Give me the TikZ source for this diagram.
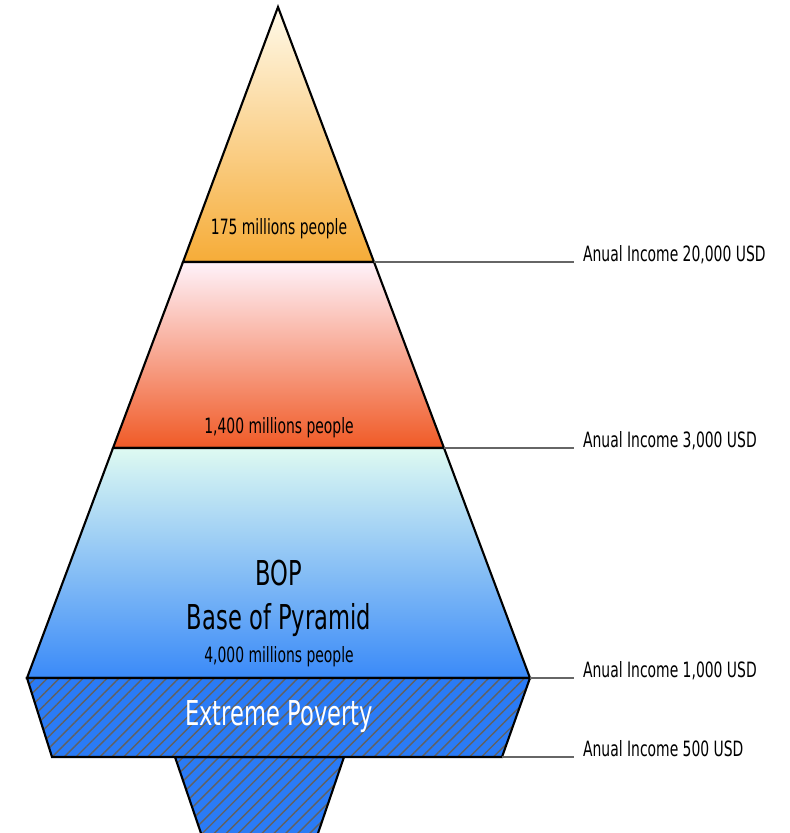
\documentclass[tikz,border=0pt]{standalone}
\usepackage{fontspec}
\setmainfont{DejaVu Sans}[FakeStretch=0.66]
\usepackage{tikz}
\usetikzlibrary{calc}
\usetikzlibrary{patterns.meta}
\definecolor{orangetop}{HTML}{FFFAEA}
\definecolor{orangebot}{HTML}{F6AC38}
\definecolor{redtop}{HTML}{FFF2FA}
\definecolor{redbot}{HTML}{F05A26}
\definecolor{bluetop}{HTML}{DEFAF2}
\definecolor{bluebot}{HTML}{3A8AF8}
\definecolor{povblue}{HTML}{2A7BF6}
\definecolor{leadgray}{HTML}{666666}
\newcommand{\income}[3]{ \node[incomelbl, anchor=base west] (#1) at ( 574 , #2 ) {#3};}
\tikzset{
  pyr/.style={draw=black, line width=1.2pt},
  leader/.style={draw=leadgray, line width=0.8pt},
  hatched/.style={preaction={fill=povblue},
    preaction={pattern={Lines[angle=45,distance=4.8pt,line width=0.8pt]}, pattern color=black!62}},
  incomelbl/.style={inner ysep=0pt, inner xsep=5pt, font=\fontsize{12}{14}\selectfont},
  bandlbl/.style={inner sep=0pt, font=\fontsize{12}{14}\selectfont},
  biglbl/.style={inner sep=0pt, font=\fontsize{19.5}{22}\selectfont},
}
\begin{document}
\begin{tikzpicture}[x=0.02cm, y=-0.02cm]
        \useasboundingbox (0,0) rectangle (790,833);
        \clip (0,0) rectangle (790,833);
        % corners
        \coordinate (apex) at (278,7);
        \coordinate (c1l) at (183,262);
        \coordinate (c1r) at (374,262);
        \coordinate (c2l) at (113,448);
        \coordinate (c2r) at (444,448);
        \coordinate (c3l) at (27,678);
        \coordinate (c3r) at (530,678);
        \coordinate (c4l) at (52,757);
        \coordinate (c4r) at (502,757);
        % stem
        \draw[pyr, hatched] (175,757) -- (344,757) -- (314,845) -- (205,845) -- cycle;
        % band1
        \draw[pyr, top color=orangetop, bottom color=orangebot] (apex) -- (c1r) -- (c1l) -- cycle;
        % band2
        \draw[pyr, top color=redtop, bottom color=redbot] (c1l) -- (c1r) -- (c2r) -- (c2l) -- cycle;
        % band3
        \draw[pyr, top color=bluetop, bottom color=bluebot] (c2l) -- (c2r) -- (c3r) -- (c3l) -- cycle;
        % band4
        \draw[pyr, hatched] (c3l) -- (c3r) -- (c4r) -- (c4l) -- cycle;
        % labels inside
        \node[bandlbl] (top) at (279,229) {175 millions people};
        \node[bandlbl] (mid) at (279,428) {1,400 millions people};
        \node[biglbl] (bop) at (279,573) {BOP};
        \node[biglbl] (bopname) at (279,620) {Base of Pyramid};
        \node[bandlbl] (bopcount) at (279,657) {4,000 millions people};
        \node[biglbl, text=white] (poverty) at (279,717) {Extreme Poverty};
        % income labels
        \income{inc1}{261}{Anual Income 20,000 USD}
        \income{inc2}{447}{Anual Income 3,000 USD}
        \income{inc3}{677}{Anual Income 1,000 USD}
        \income{inc4}{756}{Anual Income 500 USD}
        % leaders
        \draw[leader] (c1r) -- (c1r -| inc1.west);
        \draw[leader] (c2r) -- (c2r -| inc2.west);
        \draw[leader] (c3r) -- (c3r -| inc3.west);
        \draw[leader] (c4r) -- (c4r -| inc4.west);
\end{tikzpicture}
\end{document}
